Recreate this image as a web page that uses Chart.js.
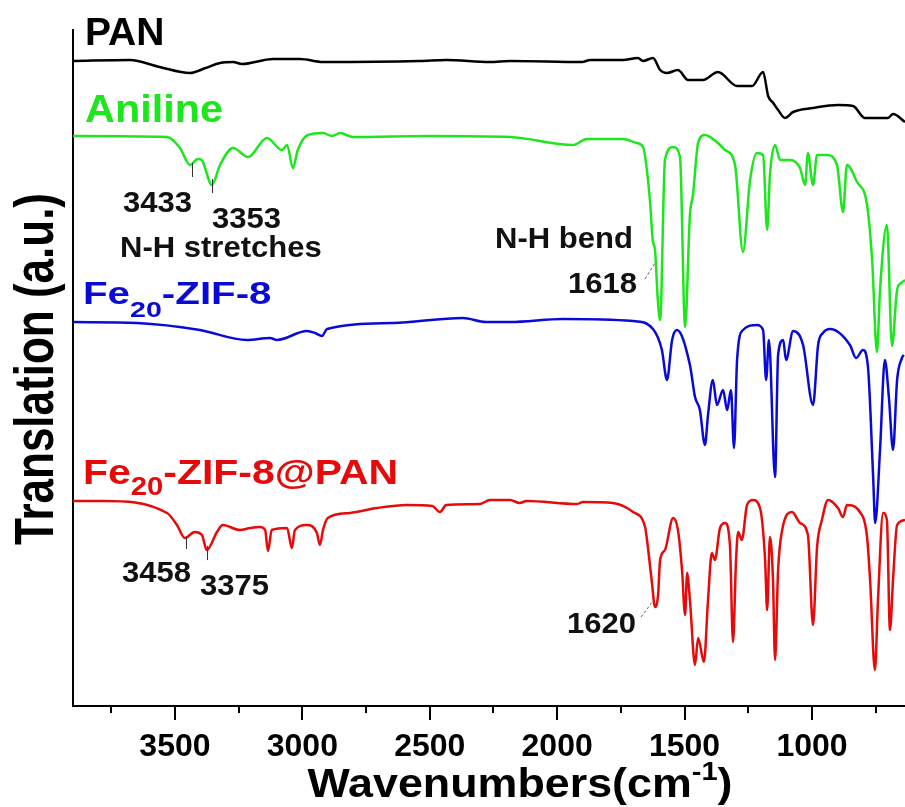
<!DOCTYPE html>
<html>
<head>
<meta charset="utf-8">
<script src="https://cdn.jsdelivr.net/npm/chart.js@4"></script>
<style>
body{margin:0;background:#fff}
canvas{display:block}
</style>
</head>
<body>
<canvas id="ftirChart" width="905" height="807"></canvas>
<script>
// wavenumbers (cm-1) and stacked transmittance traces (a.u., offset already included)
const panWn  = [3900,3677,3560,3441,3380,3323,3272,3237,3115,3009,2919,2538,2435,2264,2185,1902,1871,1742,1683,1663,1624,1596,1569,1526,1486,1428,1369,1294,1235,1192,1172,1152,1133,1106,1074,996,898,839,792,702,682,635]
const panVal = [645,646,639,633,638,643,644,642,647,647,644,645,646,644,645,644,646,646,648,645,648,636,633,636,626,626,634,620,620,634,610,603,596,588,594,598,601,600,588,588,592,584]

const anilineWn  = [3900,3531,3480,3441,3410,3395,3355,3323,3272,3213,3139,3080,3060,3037,3018,2978,2919,2884,2852,2801,2500,2185,1938,1883,1742,1687,1663,1636,1625,1616,1605,1596,1577,1545,1518,1498,1479,1467,1447,1420,1369,1341,1302,1271,1243,1216,1192,1176,1165,1145,1125,1086,1047,1027,1016,996,980,941,902,878,863,823,784,764,745,733,706,686,666,650,635]
const anilineVal = [570,569,558,541,547,546,521,541,558,549,568,556,561,538,556,571,573,570,573,569,570,569,561,567,567,563,559,506,466,456,406,386,546,559,549,379,491,511,563,571,563,556,541,454,526,553,551,476,531,561,546,546,538,521,553,521,551,551,541,494,541,524,501,446,354,416,481,360,416,423,426]

const zifWn  = [3900,3649,3402,3218,3127,3100,2982,2950,2923,2903,2644,2370,2280,2185,1977,1702,1624,1589,1569,1549,1530,1479,1459,1440,1420,1408,1389,1373,1349,1333,1318,1306,1294,1271,1216,1192,1180,1169,1145,1133,1113,1102,1074,1035,996,976,957,929,851,827,800,780,760,752,733,714,698,682,666,647,640]
const zifVal = [384,383,376,366,368,366,375,373,370,377,383,388,384,384,387,385,377,356,326,366,376,341,309,296,261,291,326,301,316,296,316,258,346,376,381,376,326,366,229,351,366,346,375,361,301,361,373,377,361,348,356,338,229,183,256,346,308,256,326,348,351]

const compWn  = [3900,3782,3531,3492,3461,3422,3394,3375,3335,3312,3245,3205,3166,3146,3135,3120,3060,3041,3029,2982,2943,2931,2919,2900,2813,2707,2589,2490,2460,2435,2303,2264,2185,2147,2120,1922,1899,1781,1702,1655,1644,1628,1616,1604,1596,1577,1545,1526,1510,1498,1490,1479,1459,1447,1424,1408,1393,1381,1361,1341,1322,1310,1298,1290,1275,1255,1232,1204,1184,1176,1165,1153,1145,1133,1117,1078,1047,1016,996,980,961,937,898,878,863,812,784,772,753,741,721,706,694,682,666,635]
const compVal = [205,205,193,181,168,174,171,156,174,181,176,178,179,176,155,176,178,158,176,181,173,161,176,188,193,198,201,200,194,201,202,206,206,203,205,202,204,203,194,179,159,123,99,111,146,156,188,176,136,91,133,106,41,68,44,106,153,146,178,183,161,64,146,174,166,201,206,198,146,96,169,126,46,136,176,194,183,171,81,159,186,206,198,189,201,194,169,126,36,106,193,186,76,126,181,186]

const xTicks = [3750,3500,3250,3000,2750,2500,2250,2000,1750,1500,1250,1000,750]

const FONT = '"Liberation Sans", Arial, sans-serif'

function pts(wn, val){
  return wn.map((w,i) => ({x:w, y:val[i]}))
}

function rich(ctx, parts, x, y, color, sx){
  ctx.save()
  ctx.translate(x, y)
  ctx.scale(sx, 1)
  ctx.fillStyle = color
  ctx.textAlign = 'left'
  ctx.textBaseline = 'alphabetic'
  let cx = 0
  parts.forEach(p => {
    ctx.font = 'bold ' + p.size + 'px ' + FONT
    ctx.fillText(p.t, cx, p.dy || 0)
    cx += ctx.measureText(p.t).width
  })
  ctx.restore()
}

function richWidth(ctx, parts){
  let w = 0
  parts.forEach(p => {
    ctx.font = 'bold ' + p.size + 'px ' + FONT
    w += ctx.measureText(p.t).width
  })
  return w
}

const decor = {
  id:'decor',
  afterDraw(chart){
    const ctx = chart.ctx
    const xs = chart.scales.x
    const bottom = chart.chartArea.bottom

    // ticks
    ctx.save()
    ctx.strokeStyle = '#000'
    ctx.lineWidth = 2
    xTicks.forEach(v => {
      const px = Math.round(xs.getPixelForValue(v))
      const len = v % 500 === 0 ? 14 : 7
      ctx.beginPath()
      ctx.moveTo(px, bottom)
      ctx.lineTo(px, bottom + len)
      ctx.stroke()
    })
    ctx.restore()

    // series names
    rich(ctx, [{t:'PAN', size:39}], 85, 45, '#000', 1.0)
    rich(ctx, [{t:'Aniline', size:38}], 85, 122, '#1ee61e', 1.09)
    rich(ctx, [{t:'Fe', size:31}, {t:'20', size:22, dy:13}, {t:'-ZIF-8', size:31}], 83, 304, '#0a0ad8', 1.3)
    rich(ctx, [{t:'Fe', size:35}, {t:'20', size:25, dy:11}, {t:'-ZIF-8@PAN', size:35}], 83, 484, '#e60a0a', 1.17)

    // peak annotations
    const a = [
      ['3433',123,212],['3353',212,228],['N-H stretches',120,257],
      ['N-H bend',495,248],['1618',568,293],
      ['3458',122,582],['3375',200,595],['1620',567,633]
    ]
    a.forEach(t => rich(ctx, [{t:t[0], size:29}], t[1], t[2], '#111', 1.07))

    ctx.save()
    ctx.strokeStyle = '#333'
    ctx.lineWidth = 1
    ;[[3433,163,177],[3353,179,193],[3458,537,549],[3375,546,560]].forEach(m => {
      const px = Math.round(xs.getPixelForValue(m[0])) + 0.5
      ctx.beginPath()
      ctx.moveTo(px, m[1])
      ctx.lineTo(px, m[2])
      ctx.stroke()
    })
    ctx.setLineDash([3,2])
    ctx.strokeStyle = '#666'
    ;[[645,279,655,263],[641,617,653,601]].forEach(l => {
      ctx.beginPath()
      ctx.moveTo(l[0], l[1])
      ctx.lineTo(l[2], l[3])
      ctx.stroke()
    })
    ctx.restore()

    // x title with superscript
    const xt = [{t:'Wavenumbers(cm', size:40}, {t:'-1', size:26, dy:-17}, {t:')', size:40}]
    const sx = 1.12
    rich(ctx, xt, 520 - richWidth(ctx, xt) * sx / 2, 797, '#000', sx)

    // y title
    ctx.save()
    ctx.translate(53, 369)
    ctx.rotate(-Math.PI / 2)
    ctx.scale(1, 1.26)
    ctx.fillStyle = '#000'
    ctx.font = 'bold 44px ' + FONT
    ctx.textAlign = 'center'
    ctx.textBaseline = 'alphabetic'
    ctx.fillText('Translation (a.u.)', 0, 0)
    ctx.restore()
  }
}

const line = (label, wn, val, color) => ({
  label:label,
  data:pts(wn, val),
  borderColor:color,
  borderWidth:2.5,
  pointRadius:0,
  cubicInterpolationMode:'monotone',
  fill:false
})

new Chart(document.getElementById('ftirChart'),{
  type:'line',
  data:{
    datasets:[
      line('Fe20-ZIF-8@PAN', compWn, compVal, '#e60a0a'),
      line('Fe20-ZIF-8', zifWn, zifVal, '#0a0ad8'),
      line('Aniline', anilineWn, anilineVal, '#1ee61e'),
      line('PAN', panWn, panVal, '#000')
    ]
  },
  options:{
    responsive:false,
    animation:false,
    layout:{padding:{top:30,right:0,left:0,bottom:0}},
    plugins:{legend:{display:false},tooltip:{enabled:false}},
    scales:{
      x:{
        type:'linear',
        reverse:true,
        min:635,
        max:3900,
        afterBuildTicks:s => { s.ticks = xTicks.map(v => ({value:v})) },
        afterFit:s => { s.height = 101 },
        border:{display:true,color:'#000',width:2},
        grid:{drawOnChartArea:false,drawTicks:true,tickLength:14,tickColor:'rgba(0,0,0,0)'},
        ticks:{
          autoSkip:false,
          maxRotation:0,
          padding:8,
          color:'#000',
          font:{family:FONT,size:32,weight:'bold'},
          callback:v => v % 500 === 0 ? String(v) : ''
        }
      },
      y:{
        min:0,
        max:676,
        afterFit:s => { s.width = 73 },
        border:{display:true,color:'#000',width:2},
        grid:{display:false,drawTicks:false},
        ticks:{display:false}
      }
    }
  },
  plugins:[decor]
})
</script>
</body>
</html>
